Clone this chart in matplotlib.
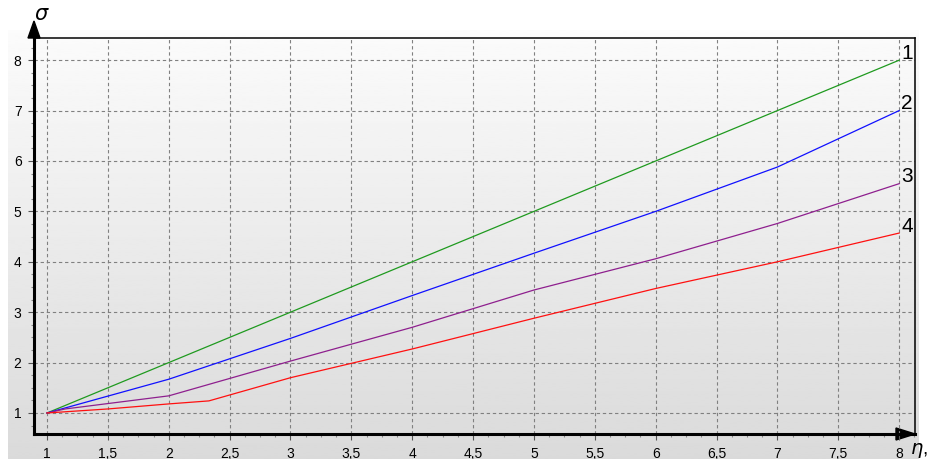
import numpy as np
import matplotlib
matplotlib.use('Agg')
import matplotlib.pyplot as plt
from matplotlib.patches import Polygon
from matplotlib.ticker import MultipleLocator, FuncFormatter

plt.rcParams['font.family'] = ['Liberation Sans', 'DejaVu Sans']

# curve data
x_green = [1, 2, 3, 4, 5, 6, 7, 8]
y_green = [1, 2, 3, 4, 5, 6, 7, 8]

x_blue = [1, 2, 3, 4, 5, 6, 7, 8]
y_blue = [1, 1.67, 2.48, 3.33, 4.17, 5.0, 5.88, 7.0]

x_purple = [1, 1.15, 2, 3, 4, 5, 6, 7, 8]
y_purple = [1, 1.08, 1.34, 2.03, 2.70, 3.44, 4.06, 4.76, 5.55]

x_red = [1, 1.5, 2, 2.33, 3, 4, 5, 6, 7, 8]
y_red = [1, 1.08, 1.18, 1.24, 1.70, 2.27, 2.88, 3.47, 4.0, 4.57]

curve_names = ['1', '2', '3', '4']

W, H = 930, 459
fig = plt.figure(figsize=(W / 100, H / 100), dpi=100)

# grey gradient panel behind the chart
bg = fig.add_axes([8 / W, 0, (918 - 8) / W, (H - 30) / H])
grad = np.linspace(0.985, 0.855, 256).reshape(-1, 1)
bg.imshow(grad, aspect='auto', cmap='gray', vmin=0, vmax=1, extent=[0, 1, 0, 1])
bg.set_axis_off()

ax = fig.add_axes([34 / W, 25 / H, 881 / W, 396 / H])
ax.patch.set_alpha(0)
ax.set_xlim(0.893, 8.13)
ax.set_ylim(0.583, 8.44)

ax.plot(x_green, y_green, color='#1f9a1f', lw=0.9)
ax.plot(x_blue, y_blue, color='#1010ff', lw=0.9)
ax.plot(x_purple, y_purple, color='#8e1f8e', lw=0.9)
ax.plot(x_red, y_red, color='#ff1010', lw=0.9)

ends = [(x_green[-1], y_green[-1]), (x_blue[-1], y_blue[-1]),
        (x_purple[-1], y_purple[-1]), (x_red[-1], y_red[-1])]
for name, (xe, ye) in zip(curve_names, ends):
    ax.annotate(name, (xe, ye), xytext=(1.5, -2), textcoords='offset points',
                ha='left', va='bottom', fontsize=15, annotation_clip=False)

ax.xaxis.set_major_locator(MultipleLocator(0.5))
ax.xaxis.set_minor_locator(MultipleLocator(0.125))
ax.yaxis.set_major_locator(MultipleLocator(1))
ax.yaxis.set_minor_locator(MultipleLocator(0.25))
ax.xaxis.set_major_formatter(FuncFormatter(lambda v, p: ('%g' % v).replace('.', ',')))
ax.grid(True, which='major', color='#808080', lw=0.8, linestyle=(0, (3, 2.5)))
ax.tick_params(which='major', length=4, width=0.8, color='#555555', labelsize=10, pad=5)
ax.tick_params(which='minor', length=2.5, width=0.8, color='#888888')

ax.spines['left'].set_linewidth(2.2)
ax.spines['bottom'].set_linewidth(2.2)
ax.spines['top'].set_linewidth(1.1)
ax.spines['right'].set_linewidth(1.1)

# axis arrows
aw, ah = 881.0, 396.0
yarrow = Polygon([[0, 1 + 17 / ah], [-6 / aw, 1.0], [6 / aw, 1.0]], closed=True,
                 transform=ax.transAxes, color='black', clip_on=False)
xarrow = Polygon([[1.0, 0], [1 - 19 / aw, 6 / ah], [1 - 19 / aw, -6 / ah]], closed=True,
                 transform=ax.transAxes, color='black', clip_on=False)
ax.add_patch(yarrow)
ax.add_patch(xarrow)
ax.plot([0, 0], [1.0, 1.01], transform=ax.transAxes, color='black', lw=2.2, clip_on=False)

fig.text(42 / W, 1 - 15 / H, r'$\sigma$', fontsize=15, ha='center', va='center')
fig.text(910 / W, 1 - 451 / H, r'$\eta$,', fontsize=14, ha='left', va='center')

fig.savefig('out.png', dpi=100)
